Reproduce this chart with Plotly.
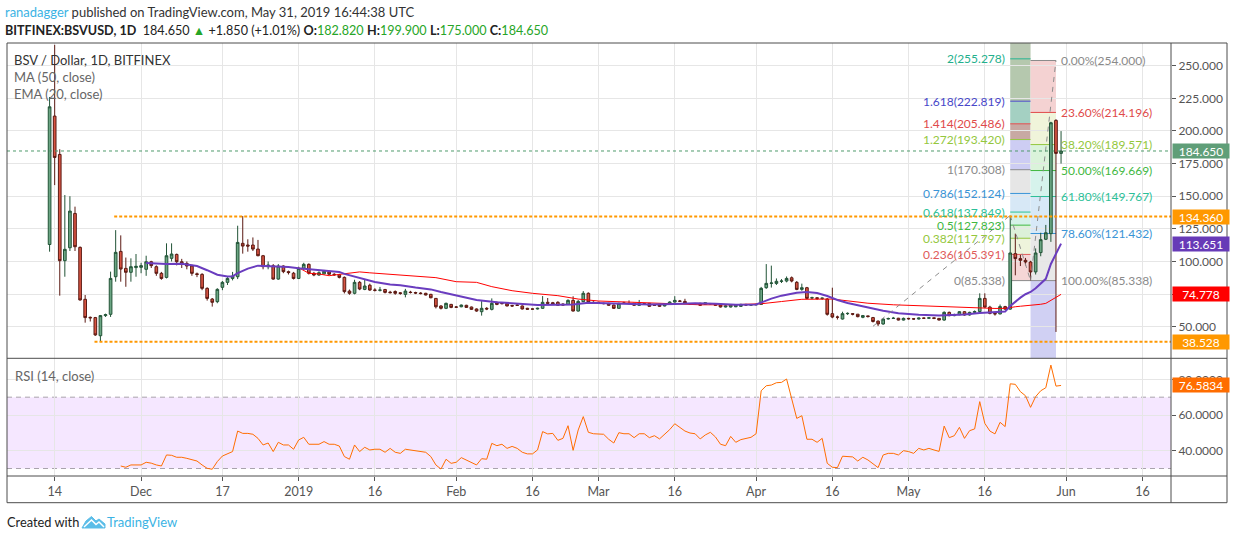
import plotly.graph_objects as go
import pandas as pd

FONT = "Lato"

# ---- daily BSV/USD candles, Bitfinex, 2018-11-13 .. 2019-05-31 ----
start = pd.Timestamp("2018-11-13")
dates = pd.date_range(start, periods=200, freq="D")

opens = [
    113, 211.4, 182, 100.6, 110.5, 136.8, 110.8, 71, 57.2, 57,
    43.1, 58.5, 59.5, 88.3, 107.7, 94.7, 91.7, 95.3, 95.5, 94,
    99.8, 96, 90.9, 87.8, 102.4, 105.4, 99.8, 98.5, 96.5, 90.5,
    90.1, 79.4, 71.2, 69.2, 80.2, 84, 87, 88.3, 113.9, 112.6,
    112.6, 109.5, 104.4, 96, 96.7, 86.5, 96.5, 92.2, 91, 87,
    94.7, 97.8, 90.9, 89.6, 90.5, 92, 90.2, 89.8, 87.8, 77.3,
    75.6, 84, 78.6, 81.8, 78.1, 77.9, 78.5, 76.5, 77, 76,
    74.8, 76.5, 76.2, 75.8, 75.6, 74.8, 71.7, 65.9, 64.1, 67.1,
    65.1, 65.3, 66.4, 65.1, 63.6, 61.5, 64.1, 63.3, 68.7, 67.9,
    67.9, 66.2, 66.6, 65.9, 64.1, 63.6, 63.6, 64.1, 68.7, 68.4,
    68.7, 67.4, 67.1, 70.2, 62, 69.2, 75.6, 68.7, 68.7, 67.9,
    67.9, 66.6, 64.1, 68.2, 67.9, 67.9, 66.4, 67.6, 67.9, 66.6,
    67.1, 65.9, 67.4, 68.9, 69.7, 69.4, 67.6, 67.6, 67.9, 67.1,
    67.8, 67.6, 66.6, 65.1, 65.1, 65.3, 65.6, 67.1, 66.6, 66.7,
    67.1, 79.9, 83.2, 83.2, 84.8, 85, 87.5, 84, 78.6, 79.9,
    72, 72.2, 71.7, 71.2, 60, 57.4, 55.9, 60, 60, 59.6,
    57.2, 58.3, 57, 54.3, 52.1, 55.9, 56.3, 56.5, 55.1, 56.4,
    56.1, 55.9, 56.6, 56.5, 56.8, 56.4, 55.1, 61, 58.5, 59.2,
    61.5, 59, 61, 61.6, 71.7, 65, 60.2, 59.8, 65.4, 63.5,
    106, 102.2, 100.9, 99.6, 92, 106.8, 117, 121.3, 208.1, 182.82,
]
highs = [
    226, 266, 186, 150.9, 150, 142, 111.5, 74.3, 57.8, 57.5,
    59, 60, 92.2, 124, 120, 103, 102.4, 105.7, 99, 104.4,
    100.5, 97, 92, 113.9, 113.9, 106, 102, 100, 97.5, 91.5,
    91, 80.2, 72, 79.5, 85, 88, 92, 127.4, 134.8, 117,
    118.4, 116.5, 105, 100, 98, 98, 97, 93, 92, 96,
    99, 98.5, 92, 92.5, 93.5, 93, 91, 90.5, 88.5, 78.5,
    86, 85, 86, 83, 79.5, 80.5, 79, 77.5, 77.8, 76.5,
    79, 77.5, 76.8, 76.5, 76, 75.2, 72, 66.5, 68.5, 67.5,
    65.8, 67, 66.8, 65.4, 64, 69.6, 65, 71.7, 69.2, 68.7,
    68.4, 66.8, 67.2, 66.3, 64.5, 64, 64.6, 73.5, 72, 69,
    69.5, 67.9, 71, 73.3, 70.5, 77.3, 76.3, 69.5, 69.1, 68.4,
    68.3, 67, 68.4, 69.2, 70.2, 68.3, 70.5, 68, 68.2, 67,
    67.4, 67.8, 69.5, 73.4, 70.5, 71.4, 68, 68.2, 68.3, 68.4,
    68.2, 68, 67, 66.4, 67, 67, 67.6, 67.5, 67.2, 67.5,
    80.5, 98, 96.8, 87, 86.5, 88.5, 88.5, 85, 83, 80.5,
    73, 72.5, 72.3, 72, 79.9, 58.5, 61.5, 61, 60.5, 59.8,
    59, 58.5, 57.5, 54.8, 56.5, 57, 57.5, 56.8, 57, 56.8,
    56.5, 57, 57, 57.2, 57, 56.6, 61.8, 61.6, 60, 62,
    62, 61.5, 62.5, 75.6, 75.6, 66, 61.5, 67, 66, 135,
    121.3, 105, 102.7, 100.5, 110, 122, 128, 207, 209, 199.9,
]
lows = [
    107.5, 158.5, 73.8, 88.3, 108, 108, 70, 53.1, 54, 43,
    38.53, 57.5, 57.5, 84.5, 84.5, 80.6, 84.5, 88.3, 91, 89,
    95, 89, 86, 87, 100, 97, 95, 94, 89, 88,
    78, 70, 65.4, 68, 78, 82, 85.5, 86.5, 106, 107.5,
    108, 104, 94, 94, 86, 86, 91, 90, 86.2, 86.5,
    93.5, 90, 88.7, 89, 90, 89.5, 89, 87, 75.5, 74.5,
    74.8, 78, 78, 77.5, 77, 77, 75.5, 75.5, 74.5, 74.5,
    72.5, 75.5, 75, 74.8, 74, 71.8, 64, 63.2, 63.5, 64.2,
    64.4, 64.9, 64.4, 62.8, 61.5, 58.5, 62.7, 62.5, 66.5, 67.1,
    65.6, 65.3, 66, 63.2, 63, 63, 63.2, 63.7, 67.5, 66.9,
    66, 66.2, 66.8, 61.7, 61.6, 68.8, 68.2, 67.4, 68, 67.2,
    66, 63.6, 63.8, 67.5, 67.2, 66, 66, 67, 65.3, 66,
    65.2, 65.6, 67, 68.5, 69, 67.5, 67, 67.2, 66, 66.8,
    67, 66, 64.8, 64.8, 64.8, 65, 65.3, 66.2, 66.2, 66.4,
    66.8, 79, 80, 82, 83.5, 84, 84, 78, 77.5, 71,
    71, 70.5, 70.5, 58.5, 56.5, 55.5, 55.5, 59, 58.7, 57.2,
    56.5, 57, 53.2, 50.5, 51.5, 55.5, 56, 54.8, 54.8, 55.4,
    55.4, 55.5, 56, 56, 55.8, 54.8, 54.6, 58, 58, 58.8,
    58.5, 58.5, 60.5, 60.8, 64.5, 59.5, 58.5, 59.5, 62.8, 63,
    89.4, 96.5, 97, 85.338, 90, 104, 116.4, 115, 46, 175,
]
closes = [
    218.5, 179.7, 100.6, 109.3, 138.6, 111.3, 70.5, 57, 56.8, 43.7,
    58.5, 59.2, 87, 107, 94.2, 91.7, 96, 96.3, 96.8, 99.8,
    96.8, 90.9, 87, 104.4, 105.7, 99.8, 98.5, 96.5, 90.9, 90.1,
    79.4, 71.7, 68.7, 78.6, 84, 87, 88.8, 114.6, 111.8, 111.8,
    109.5, 104.4, 96, 97.3, 86.5, 96.5, 92.2, 91.5, 87, 94.7,
    97.8, 90.9, 89.6, 91.4, 92.5, 90.2, 89.8, 87.8, 76.9, 75.6,
    84, 78.9, 81.2, 78.1, 77.9, 78.1, 76.3, 76.1, 75.6, 75.5,
    77.3, 76.2, 75.8, 75.4, 74.3, 72.2, 65.3, 64.1, 67.9, 64.8,
    65, 66.6, 64.8, 63.3, 62, 64.1, 63.6, 67.9, 67.1, 67.7,
    65.9, 65.9, 66.4, 63.6, 63.4, 63.5, 64.1, 68.7, 67.9, 67.4,
    66.4, 66.6, 70.2, 62, 69.4, 75.6, 68.7, 67.9, 68.5, 67.7,
    66.4, 64.1, 67.9, 68, 67.7, 66.4, 67.6, 67.5, 65.6, 66.4,
    65.6, 67.4, 68.9, 70.2, 69.5, 67.9, 67.5, 67.7, 66.4, 68.4,
    67.6, 66.4, 65.1, 65.9, 66.6, 66.6, 67.1, 66.6, 66.7, 67.1,
    79.4, 83.2, 83.5, 84.8, 85, 87, 85, 78.6, 79.9, 71.7,
    72.2, 71.7, 71.9, 59.5, 57.4, 57.3, 60, 60.2, 59.6, 57.7,
    58.5, 57.8, 54, 52.1, 55.9, 56.3, 56.5, 55.1, 56.4, 56.1,
    55.9, 56.6, 56.5, 56.8, 56.4, 55.1, 61, 58.5, 59.2, 61.5,
    59, 61, 61.6, 71.7, 65, 60.2, 59.8, 65.4, 63.5, 106.5,
    102.2, 100.9, 99.6, 92, 106.5, 116.7, 122, 206.3, 182.82, 184.65,
]

# EMA(20) and MA(50) at selected days (day 0 = 2018-11-13)
ema_days = [19, 21, 23, 26, 29, 31, 33, 35, 36, 37, 39, 41, 44, 47, 49, 52, 55, 57, 58,
            61, 64, 67, 69, 72, 75, 77, 80, 84, 88, 92, 96, 100, 103, 106, 110, 114,
            118, 123, 127, 131, 135, 139, 140, 142, 144, 147, 149, 151, 153, 155, 157,
            161, 164, 167, 171, 175, 180, 183, 186, 188, 189, 190, 191, 192, 193, 194,
            195, 196, 197, 198, 199]
ema_vals = [98.8, 98.2, 98.0, 98.3, 96.5, 93.3, 89.8, 88.5, 88.6, 91.0, 94.5, 96.8, 96.5,
            95.8, 94.8, 93.6, 92.8, 92.0, 90.5, 87.5, 84.3, 82.4, 81.8, 80.0, 78.6, 76.6,
            73.8, 70.5, 68.8, 67.8, 66.6, 66.9, 67.0, 68.3, 67.9, 67.4, 67.1, 67.5, 67.9,
            67.6, 66.8, 67.0, 68.5, 71.5, 73.8, 76.0, 76.6, 75.8, 73.5, 70.5, 68.2, 64.6,
            62.3, 60.4, 59.2, 58.6, 59.3, 60.5, 61.0, 61.6, 65.8, 69.3, 72.3, 74.9, 76.6,
            79.4, 83.0, 86.7, 98.1, 106.2, 113.651]

ma_days = [49, 50, 51, 53, 55, 57, 59, 61, 63, 65, 67, 69, 72, 76, 80, 84, 87, 91, 95,
           100, 104, 108, 115, 121, 128, 134, 140, 144, 148, 154, 158, 161, 166, 171,
           176, 181, 186, 188, 189, 190, 191, 192, 193, 194, 195, 196, 197, 198, 199]
ma_vals = [95.2, 92.8, 91.0, 90.4, 89.1, 90.1, 91.1, 92.0, 91.3, 90.7, 89.9, 89.6, 88.8,
           87.6, 84.5, 84.0, 80.7, 77.6, 75.6, 73.8, 71.2, 69.7, 68.7, 67.6, 66.8, 66.8,
           67.6, 69.3, 71.0, 71.2, 69.6, 68.0, 66.8, 66.1, 65.2, 64.6, 64.0, 64.1, 64.9,
           65.3, 65.7, 66.0, 66.2, 66.6, 67.2, 67.9, 70.5, 72.5, 74.778]

# RSI(14) from day 14 to day 199
rsi_vals = [
    31.4, 30.7, 32.0, 32.0, 32.0, 33.5, 33.0, 32.0, 31.4, 37.6,
    37.4, 36.3, 36.3, 35.7, 34.8, 34.2, 32.0, 30.1, 29.6, 33.9,
    37.0, 38.3, 39.5, 51.0, 49.7, 49.7, 49.2, 46.9, 43.2, 44.3,
    39.5, 44.7, 43.2, 43.2, 40.8, 46.0, 47.5, 43.6, 43.6, 43.6,
    45.1, 43.6, 43.6, 42.6, 36.7, 35.2, 43.2, 39.5, 41.9, 40.4,
    40.8, 40.8, 39.1, 41.3, 39.1, 38.5, 40.8, 40.4, 39.8, 39.5,
    39.1, 36.7, 32.0, 29.7, 35.2, 32.9, 33.5, 36.1, 34.6, 33.5,
    32.0, 35.5, 35.2, 44.1, 42.8, 43.6, 41.3, 42.4, 41.3, 39.1,
    38.2, 38.2, 40.4, 50.7, 49.4, 49.7, 45.8, 46.9, 54.0, 40.2,
    51.6, 59.1, 50.3, 49.5, 49.2, 49.2, 46.4, 44.3, 50.1, 49.5,
    49.5, 47.3, 49.5, 49.5, 47.3, 48.4, 46.6, 49.2, 51.8, 55.1,
    53.1, 51.0, 49.9, 49.5, 46.6, 48.8, 50.3, 47.7, 43.6, 42.8,
    48.0, 44.7, 46.2, 46.7, 47.5, 49.5, 73.6, 76.4, 76.8, 78.1,
    78.3, 80.2, 69.3, 58.1, 59.6, 46.4, 46.4, 44.7, 46.9, 32.9,
    30.7, 30.5, 36.9, 36.9, 36.5, 34.2, 36.3, 34.8, 32.6, 30.5,
    37.6, 38.5, 38.5, 37.6, 40.0, 39.5, 38.5, 41.3, 40.4, 41.3,
    40.4, 39.6, 53.8, 47.3, 48.4, 53.1, 46.9, 51.2, 52.2, 67.5,
    55.3, 51.0, 49.4, 55.9, 53.5, 77.5, 77.2, 73.1, 70.8, 64.3,
    70.3, 73.6, 75.3, 88.0, 76.2, 76.5834,
]
rsi_start = 14

# drawings on the chart
hline_levels = [134.360, 38.528]
hline_from = ["2018-11-25 17:00", "2018-11-21 20:00"]

ext_ratios = ["0", "0.236", "0.382", "0.5", "0.618", "0.786", "1", "1.272", "1.414", "1.618", "2"]
ext_prices = [85.338, 105.391, 117.797, 127.823, 137.849, 152.124, 170.308, 193.420, 205.486, 222.819, 255.278]
ext_colors = ["#8a8a8a", "#e05a5a", "#94c73d", "#3fb83f", "#2bbf98", "#3a94d6", "#8a8a8a",
              "#94c73d", "#e04a4a", "#4747c9", "#23b08c"]
ext_fills = ["#f5d6d6", "#eef4dc", "#dcf1d8", "#d5f1e8", "#d7e8f6", "#e6e6e6", "#cdcdf3",
             "#c8a9a3", "#a4d0c2", "#b5c8ae", "#bac9b3"]

ret_pcts = ["0.00%", "23.60%", "38.20%", "50.00%", "61.80%", "78.60%", "100.00%"]
ret_prices = [254.000, 214.196, 189.571, 169.669, 149.767, 121.432, 85.338]
ret_colors = ["#8a8a8a", "#e04a4a", "#94c73d", "#3fb83f", "#2bbf98", "#3a94d6", "#8a8a8a"]
ret_fills = ["#f4d2d2", "#f0f4da", "#daf3da", "#d6f3ec", "#d7e9f7", "#e8e8e8", "#d0d0f3"]

trend_x = ["2019-04-24", "2019-05-21", "2019-05-25"]
trend_y = [50.338, 135.3, 85.338]
ret_x = ["2019-05-25", "2019-05-30"]

tick_dates = ["2018-11-14", "2018-12-01", "2018-12-17", "2019-01-01", "2019-01-16",
              "2019-02-01", "2019-02-16", "2019-03-01", "2019-03-16", "2019-04-01",
              "2019-04-16", "2019-05-01", "2019-05-16", "2019-06-01", "2019-06-16"]
tick_text = ["14", "Dec", "17", "2019", "16", "Feb", "16", "Mar", "16", "Apr",
             "16", "May", "16", "Jun", "16"]
price_ticks = [50, 75, 100, 125, 150, 175, 200, 225, 250]
price_tick_text = ["50.000", "", "100.000", "125.000", "150.000", "175.000",
                   "200.000", "225.000", "250.000"]  # 75.000 sits under the MA box
rsi_ticks = [40, 60, 80]

# ---- geometry helpers (pixel -> paper) ----
W, H = 1234, 540
X0, X1, Y0, Y1 = 7, 1171, 43, 476


def px(x):
    return (x - X0) / (X1 - X0)


def py(y):
    return (Y1 - y) / (Y1 - Y0)


split = py(358.3)
x_left = start - pd.Timedelta(days=8.38)
x_right = start + pd.Timedelta(days=220.63)
day = lambda d: start + pd.Timedelta(days=d)

fig = go.Figure()

fig.add_trace(go.Candlestick(
    x=dates, open=opens, high=highs, low=lows, close=closes,
    increasing=dict(fillcolor="#6BA583", line=dict(color="#225437", width=1)),
    decreasing=dict(fillcolor="#D75442", line=dict(color="#5B1A13", width=1)),
    whiskerwidth=0, showlegend=False, xaxis="x", yaxis="y",
))
fig.add_trace(go.Scatter(
    x=[day(d) for d in ma_days], y=ma_vals, mode="lines",
    line=dict(color="#FF0000", width=1), showlegend=False, xaxis="x", yaxis="y",
))
fig.add_trace(go.Scatter(
    x=[day(d) for d in ema_days], y=ema_vals, mode="lines",
    line=dict(color="#6A3DBF", width=2), showlegend=False, xaxis="x", yaxis="y",
))
fig.add_trace(go.Scatter(
    x=dates[rsi_start:], y=rsi_vals, mode="lines",
    line=dict(color="#FF6D00", width=1), showlegend=False, xaxis="x2", yaxis="y2",
))

shapes = []
annotations = []

# RSI band and 30/70 lines
shapes.append(dict(type="rect", xref="x2 domain", yref="y2", x0=0, x1=1, y0=30, y1=70,
                   fillcolor="rgba(153,21,255,0.1)", line_width=0, layer="below"))
for lvl in (30, 70):
    shapes.append(dict(type="line", xref="x2 domain", yref="y2", x0=0, x1=1, y0=lvl, y1=lvl,
                       line=dict(color="#a9a3ad", width=1, dash="5px,4px"), layer="below"))

# fib extension column
top_price = 267.4
bounds = ext_prices + [top_price]
for i in range(len(ext_prices)):
    shapes.append(dict(type="rect", xref="x", yref="y", x0=trend_x[1], x1=trend_x[2],
                       y0=bounds[i], y1=bounds[i + 1], fillcolor=ext_fills[i],
                       line_width=0, layer="below"))
for r, p, c in zip(ext_ratios, ext_prices, ext_colors):
    shapes.append(dict(type="line", xref="x", yref="y", x0=trend_x[1], x1=trend_x[2],
                       y0=p, y1=p, line=dict(color=c, width=1), layer="between"))
    annotations.append(dict(x=trend_x[1], y=p, xref="x", yref="y", text=f"{r}({p:.3f})",
                            showarrow=False, xanchor="right", yanchor="middle", xshift=-3,
                            font=dict(family=FONT, size=12, color=c)))

# fib retracement column
rbounds = ret_prices + [25.8]
for i in range(len(ret_prices)):
    shapes.append(dict(type="rect", xref="x", yref="y", x0=ret_x[0], x1=ret_x[1],
                       y0=rbounds[i], y1=rbounds[i + 1], fillcolor=ret_fills[i],
                       line_width=0, layer="below"))
for t, p, c in zip(ret_pcts, ret_prices, ret_colors):
    shapes.append(dict(type="line", xref="x", yref="y", x0=ret_x[0], x1=ret_x[1],
                       y0=p, y1=p, line=dict(color=c, width=1), layer="between"))
    annotations.append(dict(x=ret_x[1], y=p, xref="x", yref="y", text=f"{t}({p:.3f})",
                            showarrow=False, xanchor="left", yanchor="middle", xshift=3,
                            font=dict(family=FONT, size=12, color=c)))

# dashed trend lines of the fib tools
for (xa, ya), (xb, yb) in [((trend_x[0], trend_y[0]), (trend_x[1], trend_y[1])),
                           ((trend_x[1], trend_y[1]), (trend_x[2], trend_y[2])),
                           ((ret_x[0], ret_prices[-1]), (ret_x[1], ret_prices[0]))]:
    shapes.append(dict(type="line", xref="x", yref="y", x0=xa, y0=ya, x1=xb, y1=yb,
                       line=dict(color="#8c8c8c", width=1, dash="5px,5px"), layer="above"))

# horizontal support / resistance lines
for lvl, x_from in zip(hline_levels, hline_from):
    shapes.append(dict(type="line", xref="x", yref="y", x0=x_from, x1=x_right, y0=lvl, y1=lvl,
                       line=dict(color="#FF9800", width=2, dash="3px,2px"), layer="above"))

# last price dotted line
shapes.append(dict(type="line", xref="x", yref="y", x0=x_left, x1=x_right,
                   y0=closes[-1], y1=closes[-1],
                   line=dict(color="#4E9A6B", width=1, dash="dot"), layer="above"))

# frame
frame = "#4d4d4d"
xr = px(1227)
yb = py(502.7)
for x0_, y0_, x1_, y1_ in [(0, 1, xr, 1), (0, yb, xr, yb), (0, yb, 0, 1), (xr, yb, xr, 1),
                           (1, yb, 1, 1), (0, split, xr, split), (0, 0, xr, 0)]:
    shapes.append(dict(type="line", xref="paper", yref="paper", x0=x0_, y0=y0_, x1=x1_, y1=y1_,
                       line=dict(color=frame, width=1), layer="above"))

# TradingView logo (rough)
lx = [82, 86, 91.5, 96, 99, 105, 105, 82]
ly = [528, 521, 516.5, 521, 519, 524, 528, 528]
path = "M " + " L ".join(f"{px(a):.5f},{py(b):.5f}" for a, b in zip(lx, ly)) + " Z"
shapes.append(dict(type="path", xref="paper", yref="paper", path=path,
                   fillcolor="#5BBDE8", line=dict(color="#5BBDE8", width=1)))
zx = [84, 91.5, 96, 99, 104]
zy = [527, 520, 524.5, 522, 527]
zpath = "M " + " L ".join(f"{px(a):.5f},{py(b):.5f}" for a, b in zip(zx, zy))
shapes.append(dict(type="path", xref="paper", yref="paper", path=zpath,
                   line=dict(color="white", width=1.5)))


# right-side value boxes
def value_box(val, text, color, yref="y"):
    annotations.append(dict(x=1, y=val, xref="paper", yref=yref, text=text, showarrow=False,
                            xanchor="left", yanchor="middle", xshift=1, width=54, height=12,
                            borderpad=1, bgcolor=color, align="center",
                            font=dict(family=FONT, size=12, color="white")))


value_box(closes[-1], f"{closes[-1]:.3f}", "#5F9E78")
value_box(hline_levels[0], f"{hline_levels[0]:.3f}", "#FF9800")
value_box(ema_vals[-1], f"{ema_vals[-1]:.3f}", "#673AB7")
value_box(ma_vals[-1], f"{ma_vals[-1]:.3f}", "#FF0000")
value_box(hline_levels[1], f"{hline_levels[1]:.3f}", "#FF9800")
value_box(rsi_vals[-1], f"{rsi_vals[-1]:.4f}", "#FF6D00", yref="y2")


# texts
def text(x, y, s, size=13, color="#555555", anchor="left"):
    annotations.append(dict(x=px(x), y=py(y), xref="paper", yref="paper", text=s,
                            showarrow=False, xanchor=anchor, yanchor="middle",
                            font=dict(family=FONT, size=size, color=color)))


g = "#27A527"
text(3, 12, '<span style="color:#3BB3E4">ranadagger</span> published on TradingView.com, '
            'May 31, 2019 16:44:38 UTC', size=13, color="#333333")
text(3, 30, f'<b>BITFINEX:BSVUSD, 1D</b>  {closes[-1]:.3f} <span style="color:{g}">▲</span> '
            f'+1.850 (+1.01%) <b>O:</b><span style="color:{g}">{opens[-1]:.3f}</span> '
            f'<b>H:</b><span style="color:{g}">{highs[-1]:.3f}</span> '
            f'<b>L:</b><span style="color:{g}">{lows[-1]:.3f}</span> '
            f'<b>C:</b><span style="color:{g}">{closes[-1]:.3f}</span>',
     size=12.6, color="#222222")
text(12, 60, "BSV / Dollar, 1D, BITFINEX", size=13, color="#333333")
text(12, 77, "MA (50, close)", size=13, color="#666666")
text(12, 94, "EMA (20, close)", size=13, color="#666666")
text(13, 376, "RSI (14, close)", size=13, color="#666666")
text(5, 522, "Created with", size=12.8, color="#222222")
text(105, 522, "TradingView", size=13, color="#3BB3E4")

grid = "#e6e6e6"
axis_font = dict(family=FONT, size=12, color="#555555")
fig.update_layout(
    width=W, height=H,
    margin=dict(l=X0, r=W - X1, t=Y0, b=H - Y1),
    paper_bgcolor="white", plot_bgcolor="white",
    showlegend=False, boxgap=0.25,
    xaxis=dict(domain=[0, 1], anchor="y", range=[x_left, x_right], type="date",
               tickvals=tick_dates, ticktext=tick_text, showticklabels=False,
               showgrid=True, gridcolor=grid, gridwidth=1, zeroline=False,
               rangeslider=dict(visible=False), showline=False, ticks=""),
    xaxis2=dict(domain=[0, 1], anchor="y2", range=[x_left, x_right], type="date",
                matches="x", tickvals=tick_dates, ticktext=tick_text,
                showgrid=True, gridcolor=grid, gridwidth=1, zeroline=False,
                ticks="outside", ticklen=4, tickcolor="#555555",
                tickfont=dict(family=FONT, size=12.5, color="#555555"), showline=False),
    yaxis=dict(domain=[split, 1], anchor="x", side="right", range=[25.8, 267.4],
               tickvals=price_ticks, ticktext=price_tick_text,
               showgrid=True, gridcolor=grid, zeroline=False, ticks="outside", ticklen=4,
               tickcolor="#555555", tickfont=axis_font, showline=False),
    yaxis2=dict(domain=[0, split], anchor="x2", side="right", range=[25.8, 91.8],
                tickvals=rsi_ticks, tickformat=".4f",
                showgrid=True, gridcolor=grid, zeroline=False, ticks="outside", ticklen=4,
                tickcolor="#555555", tickfont=axis_font, showline=False),
    shapes=shapes,
    annotations=annotations,
    font=dict(family=FONT),
)

fig.write_html("out.html", config={"displayModeBar": False},
               post_script="document.body.style.margin='0px'; document.body.style.overflow='hidden';")
